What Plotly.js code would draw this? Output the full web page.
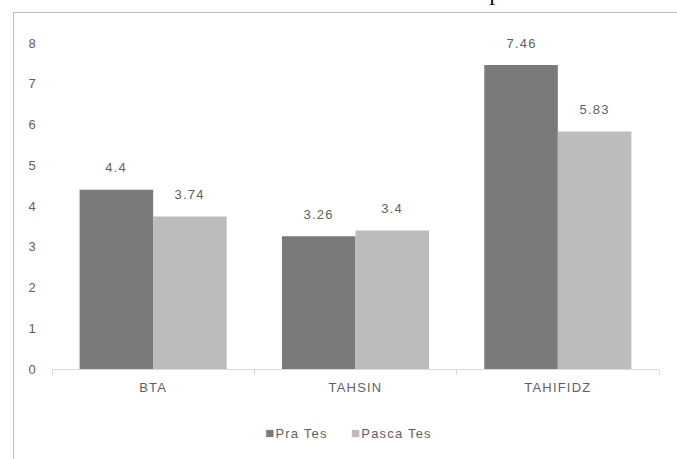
<!DOCTYPE html>
<html>
<head>
<meta charset="utf-8">
<script src="https://cdn.plot.ly/plotly-3.0.1.min.js"></script>
<style>
html,body{margin:0;padding:0;background:#fff;}
#chart{width:677px;height:459px;}
#chart text{letter-spacing:1.2px;}
</style>
</head>
<body>
<div id="chart"></div>
<script>
const categories = ["BTA", "TAHSIN", "TAHIFIDZ"];
const praTes = [4.4, 3.26, 7.46];
const pascaTes = [3.74, 3.4, 5.83];
const seriesNames = ["Pra Tes", "Pasca Tes"];
const seriesColors = ['#7a7a7a', '#bcbcbc'];
const yTicks = [0, 1, 2, 3, 4, 5, 6, 7, 8];
const cutTitle = "p";

const W = 677, H = 459;
const L = 52, R = 18, T = 43, B = 90;
const pw = W - L - R, ph = H - T - B;
const px = v => (v - L) / pw;         // window x -> paper
const py = v => (H - B - v) / ph;     // window y -> paper

const gray = '#5f5f5f';
const font = 'Liberation Sans, Arial, sans-serif';

const traces = [
  {type:'bar', name: seriesNames[0], x: categories, y: praTes,
   marker:{color: seriesColors[0]}, hoverinfo:'none', showlegend:false},
  {type:'bar', name: seriesNames[1], x: categories, y: pascaTes,
   marker:{color: seriesColors[1]}, hoverinfo:'none', showlegend:false}
];

const annotations = [];
const half = 36.75;
categories.forEach((c, i) => {
  annotations.push({x: c, y: praTes[i], xref:'x', yref:'y', text: String(praTes[i]),
    showarrow:false, xshift:-half, yshift:22, yanchor:'middle',
    font:{family:font, size:13, color:gray}});
  annotations.push({x: c, y: pascaTes[i], xref:'x', yref:'y', text: String(pascaTes[i]),
    showarrow:false, xshift:half, yshift:22, yanchor:'middle',
    font:{family:font, size:13, color:gray}});
});
// legend entries (square marker + name)
const legendX = [268, 355];
seriesNames.forEach((n, k) => {
  annotations.push({x: px(legendX[k]), y: py(432), xref:'paper', yref:'paper',
    text: '<span style="color:' + seriesColors[k] + ';font-size:15px">■</span>' + n,
    showarrow:false, xanchor:'left', yanchor:'middle',
    font:{family:font, size:13, color:gray}});
});
annotations.push({x: px(495), y: py(7), xref:'paper', yref:'paper', text: cutTitle,
  showarrow:false, xanchor:'center', yanchor:'bottom',
  font:{family:'Liberation Serif, Times New Roman, serif', size:22, color:'#000'}});

const layout = {
  width: W, height: H,
  margin:{l:L, r:R, t:T, b:B, pad:0},
  paper_bgcolor:'#fff', plot_bgcolor:'#fff',
  barmode:'group', bargap:0.273, bargroupgap:0,
  showlegend:false,
  xaxis:{type:'category', showgrid:false, zeroline:false,
    showline:true, linecolor:'#d9d9d9', linewidth:1,
    ticks:'outside', tickson:'boundaries', ticklen:5, tickcolor:'#d9d9d9',
    tickfont:{family:font, size:13, color:gray}, ticklabelstandoff:6},
  yaxis:{range:[0, 8], tickvals: yTicks, showgrid:false, zeroline:false, showline:false,
    ticks:'', tickfont:{family:font, size:13, color:gray}, ticklabelstandoff:14},
  annotations: annotations,
  shapes:[
    {type:'line', xref:'paper', yref:'paper', x0:px(13), x1:px(677), y0:py(12.5), y1:py(12.5),
      line:{color:'#bfbfbf', width:1}},
    {type:'line', xref:'paper', yref:'paper', x0:px(13.5), x1:px(13.5), y0:py(12), y1:py(459),
      line:{color:'#bfbfbf', width:1}}
  ]
};

Plotly.newPlot('chart', traces, layout, {staticPlot:true, displayModeBar:false});
</script>
</body>
</html>
